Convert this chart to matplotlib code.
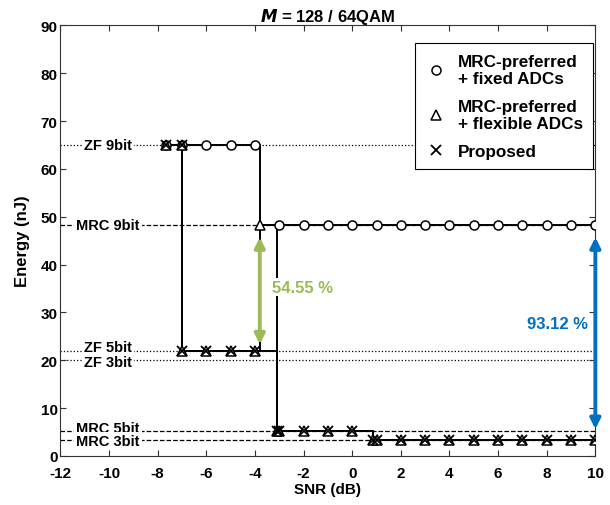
import matplotlib
matplotlib.use("Agg")
import matplotlib.pyplot as plt

plt.rcParams['font.family'] = ['Liberation Sans', 'DejaVu Sans']
plt.rcParams['font.weight'] = 'bold'
plt.rcParams['axes.unicode_minus'] = False

# ---------------- data ----------------
# energy levels (nJ)
ZF9, MRC9, ZF5, ZF3, MRC5, MRC3 = 65.0, 48.2, 21.9, 20.0, 5.2, 3.3
LEVELS = [("ZF 9bit", ZF9, ':', 65.0), ("MRC 9bit", MRC9, '--', 48.2),
          ("ZF 5bit", ZF5, ':', 22.7), ("ZF 3bit", ZF3, ':', 19.6),
          ("MRC 5bit", MRC5, '--', 5.9), ("MRC 3bit", MRC3, '--', 3.1)]

snr_hi = [-3, -2, -1, 0, 1, 2, 3, 4, 5, 6, 7, 8, 9, 10]

# MRC-preferred + fixed ADCs
fix_x = [-7.65, -7, -6, -5, -4, -3.8] + snr_hi
fix_y = [ZF9] * 5 + [MRC9] * (1 + len(snr_hi))

# MRC-preferred + flexible ADCs
flex_x = [-7.65, -7, -7, -6, -5, -4, -3.8, -3.1, -3, -2, -1, 0, 0.86,
          1, 2, 3, 4, 5, 6, 7, 8, 9, 10]
flex_y = [ZF9, ZF9, ZF5, ZF5, ZF5, ZF5, MRC9, MRC5, MRC5, MRC5, MRC5, MRC5,
          MRC3] + [MRC3] * 10

# Proposed
prop_x = [-7.65, -7, -7, -6, -5, -4, -3.1, -3, -2, -1, 0, 0.86,
          1, 2, 3, 4, 5, 6, 7, 8, 9, 10]
prop_y = [ZF9, ZF9, ZF5, ZF5, ZF5, ZF5, MRC5, MRC5, MRC5, MRC5, MRC5,
          MRC3] + [MRC3] * 10

GREEN = '#9BBB59'
BLUE = '#0070C0'

fig = plt.figure(figsize=(6.10, 5.06), dpi=100)
ax = fig.add_axes([0.099, 0.097, 0.877, 0.851])

# reference levels
for name, val, ls, ty in LEVELS:
    ax.axhline(val, color='black', ls=ls, lw=0.9, zorder=1)
    ax.text(-10.05, ty, name, ha='center', va='center', fontsize=10.5,
            fontweight='bold', zorder=2,
            bbox=dict(facecolor='white', edgecolor='none', pad=1.5))

# step lines
ax.plot(flex_x, flex_y, color='black', lw=1.4, drawstyle='steps-post', zorder=3)
ax.plot(fix_x, fix_y, color='black', lw=1.4, drawstyle='steps-post', zorder=3)
ax.plot(prop_x, prop_y, color='black', lw=1.4, drawstyle='steps-post', zorder=3)

# markers
fx = [x for x in fix_x if x != -3.8]
fy = [y for x, y in zip(fix_x, fix_y) if x != -3.8]
ax.plot(fx, fy, ls='none', marker='o', ms=6.5, mfc='white', mec='black',
        mew=1.1, zorder=5, label='MRC-preferred\n+ fixed ADCs')
ax.plot(flex_x, flex_y, ls='none', marker='^', ms=6.5, mfc='white', mec='black',
        mew=1.1, zorder=6, label='MRC-preferred\n+ flexible ADCs')
ax.plot(prop_x, prop_y, ls='none', marker='x', ms=7, mec='black',
        mew=1.3, zorder=7, label='Proposed')

# arrows
ax.annotate('', xy=(-3.8, 45.7), xytext=(-3.8, 23.3), zorder=4,
            arrowprops=dict(arrowstyle='<|-|>', color=GREEN, lw=2.8,
                            mutation_scale=15, shrinkA=0, shrinkB=0))
ax.text(-3.3, 35.3, '54.55 %', color=GREEN, fontsize=12, fontweight='bold',
        ha='left', va='center', zorder=8,
        bbox=dict(facecolor='white', edgecolor='none', pad=1))
ax.annotate('', xy=(10, 45.7), xytext=(10, 5.6), zorder=4,
            arrowprops=dict(arrowstyle='<|-|>', color=BLUE, lw=2.8,
                            mutation_scale=15, shrinkA=0, shrinkB=0))
ax.text(9.7, 27.6, '93.12 %', color=BLUE, fontsize=12, fontweight='bold',
        ha='right', va='center')

ax.set_xlim(-12, 10)
ax.set_ylim(0, 90)
ax.set_xticks(range(-12, 11, 2))
ax.set_yticks(range(0, 91, 10))
ax.tick_params(direction='in', top=True, right=True, labelsize=11,
               length=4, color='#333333')
ax.tick_params(axis='x', pad=7)
ax.tick_params(axis='y', pad=2)
for lab in ax.get_xticklabels() + ax.get_yticklabels():
    lab.set_fontweight('bold')
for s in ax.spines.values():
    s.set_color('#333333')

ax.set_xlabel('SNR (dB)', fontsize=11, fontweight='bold', labelpad=2)
ax.set_ylabel('Energy (nJ)', fontsize=12, fontweight='bold', labelpad=8)
ax.set_title(r'$\boldsymbol{M}$ = 128 / 64QAM', fontsize=12, fontweight='bold', pad=3)

leg = ax.legend(loc='upper right', bbox_to_anchor=(0.996, 0.958), fontsize=12.3,
                frameon=True, fancybox=False, edgecolor='black', framealpha=1,
                handletextpad=0.7, borderpad=0.6, labelspacing=0.75,
                handlelength=1.2, borderaxespad=0)
leg.get_frame().set_linewidth(0.8)
for t in leg.get_texts():
    t.set_fontweight('bold')

fig.savefig('out.png', dpi=100)
